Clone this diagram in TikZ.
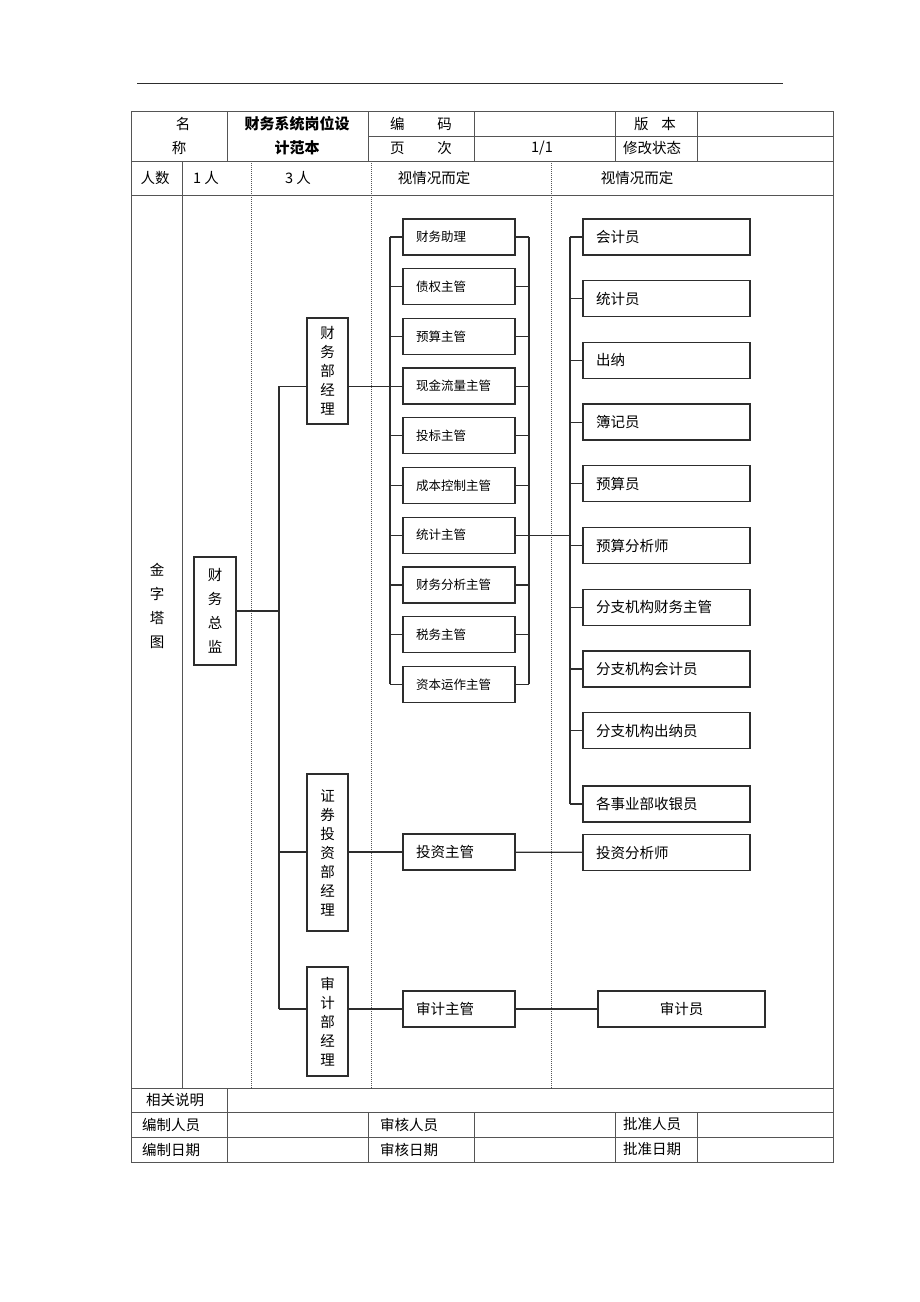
\documentclass[tikz,border=0pt]{standalone}
\usepackage{fontspec}
\setmainfont{Noto Sans CJK SC}
\usetikzlibrary{positioning}
\definecolor{clrLine}{RGB}{45,45,45}
\definecolor{clrGrid}{RGB}{85,85,85}

\begin{document}
\begin{tikzpicture}[x=1pt, y=-1pt,
  node distance=12.4pt,
  grid/.style={draw=clrGrid, line width=1pt},
  dots/.style={draw=clrGrid, line width=0.8pt, dash pattern=on 1pt off 1pt},
  box/.style={rectangle, draw=clrLine, line width=1.3pt, inner sep=0pt},
  sbox/.style={box, minimum height=36pt, text width=86pt, inner xsep=13pt,
    align=left, font=\fontsize{12.5}{14}\selectfont},
  tbox/.style={box, minimum height=36pt, text width=141pt, inner xsep=13pt,
    align=left, font=\fontsize{14.5}{16}\selectfont},
  vbox/.style={box, minimum width=41pt, align=center,
    font=\fontsize{14.5}{19}\selectfont},
  cell/.style={inner sep=0pt, font=\fontsize{14.5}{16}\selectfont},
  conn/.style={draw=clrLine, line width=1.2pt}
]
\useasboundingbox (0,0) rectangle (920,1302);

% table
\draw[line width=1pt, draw=clrLine] (137,83) -- (783,83);
\draw[grid] (131,111) rectangle (833,1162);
\draw[grid] (368,136) -- (833,136);
\foreach \y in {161,195,1088,1112,1137} \draw[grid] (131,\y) -- (833,\y);
\foreach \x in {227,368,474,615,697} \draw[grid] (\x,111) -- (\x,161);
\draw[grid] (182,161) -- (182,1088);
\foreach \x in {251,371,551} \draw[dots] (\x,161) -- (\x,1088);
\draw[grid] (227,1088) -- (227,1162);
\foreach \x in {368,474,615,697} \draw[grid] (\x,1112) -- (\x,1162);

% header texts
\node[cell] (hname1) at (183,124) {名};
\node[cell] (hname2) at (179,148) {称};
\node[cell, font=\fontsize{15}{16}\selectfont\bfseries] (htitle1) at (297,124) {财务系统岗位设};
\node[cell, font=\fontsize{15}{16}\selectfont\bfseries] (htitle2) at (297,148) {计范本};
\node[cell] (hcode) at (421,124) {编\hspace{33pt}码};
\node[cell] (hpage) at (421,148) {页\hspace{33pt}次};
\node[cell] (hpageno) at (542,148) {1/1};
\node[cell] (hver) at (655,124) {版\hspace{13pt}本};
\node[cell] (hstate) at (652,148) {修改状态};

\node[cell] (nhead) at (155,178) {人数};
\node[cell] (nboss) at (206,178) {1 人};
\node[cell] (nmgr) at (298,178) {3 人};
\node[cell] (nsup) at (434,178) {视情况而定};
\node[cell] (nstaff) at (637,178) {视情况而定};

\node[cell, align=center, font=\fontsize{14.5}{24}\selectfont] (pyramid) at (157,606) {金\\字\\塔\\图};

% boxes
\node[vbox, minimum width=42pt, minimum height=108pt,
      font=\fontsize{14.5}{24}\selectfont] (cfo) at (215,611) {财\\务\\总\\监};
\node[vbox, minimum height=106pt] (finmgr) at (327.5,371) {财\\务\\部\\经\\理};
\node[vbox, minimum height=157pt] (secmgr) at (327.5,852.5) {证\\券\\投\\资\\部\\经\\理};
\node[vbox, minimum height=109pt] (audmgr) at (327.5,1021.5) {审\\计\\部\\经\\理};

\node[sbox] (s1) at (459,237) {财务助理};
\node[sbox, below=of s1] (s2) {债权主管};
\node[sbox, below=of s2] (s3) {预算主管};
\node[sbox, below=of s3] (s4) {现金流量主管};
\node[sbox, below=of s4] (s5) {投标主管};
\node[sbox, below=of s5] (s6) {成本控制主管};
\node[sbox, below=of s6] (s7) {统计主管};
\node[sbox, below=of s7] (s8) {财务分析主管};
\node[sbox, below=of s8] (s9) {税务主管};
\node[sbox, below=of s9] (s10) {资本运作主管};

\node[tbox] (t1) at (666.5,237) {会计员};
\node[tbox, below=24.4pt of t1] (t2) {统计员};
\node[tbox, below=24.4pt of t2] (t3) {出纳};
\node[tbox, below=24.4pt of t3] (t4) {簿记员};
\node[tbox, below=24.4pt of t4] (t5) {预算员};
\node[tbox, below=24.4pt of t5] (t6) {预算分析师};
\node[tbox, below=24.4pt of t6] (t7) {分支机构财务主管};
\node[tbox, below=24.4pt of t7] (t8) {分支机构会计员};
\node[tbox, below=24.4pt of t8] (t9) {分支机构出纳员};
\node[tbox, below=36pt of t9] (t10) {各事业部收银员};

\node[sbox, font=\fontsize{14.5}{16}\selectfont] (invsup) at (459,852) {投资主管};
\node[tbox] (invana) at (666.5,852.5) {投资分析师};
\node[sbox, font=\fontsize{14.5}{16}\selectfont] (audsup) at (459,1009) {审计主管};
\node[tbox, align=center] (auditor) at (681.5,1009) {审计员};

% buses
\coordinate (mbus) at (279,0);
\coordinate (lbus) at (390,0);
\coordinate (rbus) at (529,0);
\coordinate (tbus) at (570,0);

\draw[conn] (cfo.east) -- (cfo.east -| mbus);
\draw[conn] (mbus |- s4) -- (mbus |- audsup);
\draw[conn] (mbus |- s4) -- (finmgr.west |- s4);
\draw[conn] (mbus |- invsup) -- (secmgr.west |- invsup);
\draw[conn] (mbus |- audsup) -- (audmgr.west |- audsup);

\draw[conn] (finmgr.east |- s4) -- (lbus |- s4);
\draw[conn] (lbus |- s1) -- (lbus |- s10);
\draw[conn] (rbus |- s1) -- (rbus |- s10);
\foreach \s in {s1,s2,s3,s4,s5,s6,s7,s8,s9,s10} {
  \draw[conn] (\s.west) -- (\s.west -| lbus);
  \draw[conn] (\s.east) -- (\s.east -| rbus);
}
\draw[conn] (s7.east) -- (s7.east -| tbus);
\draw[conn] (tbus |- t1) -- (tbus |- t10);
\foreach \t in {t1,t2,t3,t4,t5,t6,t7,t8,t9,t10}
  \draw[conn] (\t.west) -- (\t.west -| tbus);

\draw[conn] (secmgr.east |- invsup) -- (invsup.west);
\draw[conn] (invsup) -- (invana);
\draw[conn] (audmgr.east |- audsup) -- (audsup.west);
\draw[conn] (audsup) -- (auditor);

% footer texts
\node[cell] (fnote) at (175,1100) {相关说明};
\node[cell] (fmaker) at (171,1124.5) {编制人员};
\node[cell] (fcheck) at (409,1124.5) {审核人员};
\node[cell] (fokay) at (652,1124.5) {批准人员};
\node[cell] (fmdate) at (171,1149.5) {编制日期};
\node[cell] (fcdate) at (409,1149.5) {审核日期};
\node[cell] (fodate) at (652,1149.5) {批准日期};
\end{tikzpicture}
\end{document}
